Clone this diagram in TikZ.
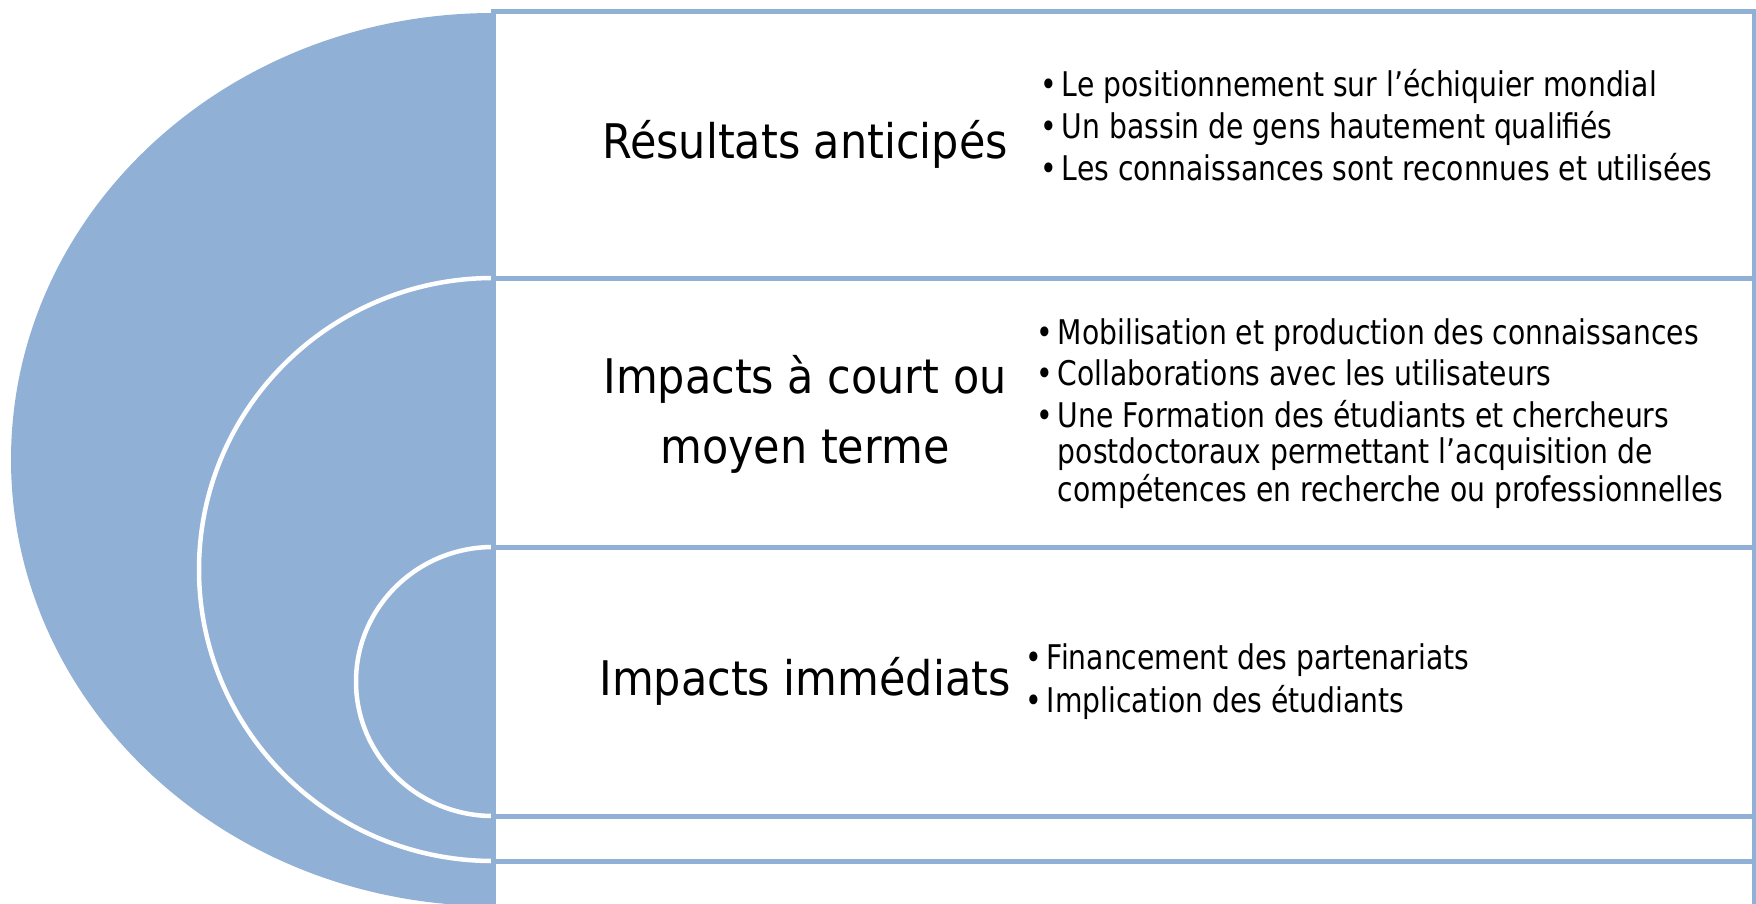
\documentclass[tikz,border=0pt]{standalone}
\usepackage{fontspec}
\setmainfont{DejaVu Sans}[FakeStretch=0.9]
\newfontfamily\etroite{DejaVu Sans}[FakeStretch=0.83]
\definecolor{bleu}{RGB}{145,176,214}

\begin{document}
\begin{tikzpicture}[x=1pt, y=-1pt,
	cadre/.style={draw=bleu, line width=5pt, fill=white},
	anneau/.style={fill=bleu, draw=white, line width=4.5pt},
	titre/.style={inner sep=0pt, align=center, font=\fontsize{47.7}{70}\selectfont},
	liste/.style={inner sep=0pt, anchor=west, font=\etroite\fontsize{34}{34}\selectfont}]
	\useasboundingbox (0,0) rectangle (1756,903);
	\fill [bleu] (493,459.5) ellipse [x radius=482pt, y radius=446.5pt];
	\draw [anneau] (493,569.5) ellipse [x radius=294pt, y radius=291.5pt];
	\draw [anneau] (493,681.5) ellipse [x radius=137pt, y radius=134.5pt];
	\draw [cadre] (493,11) rectangle (1754,906);
	\draw [cadre] (493,278) rectangle (1754,861);
	\draw [cadre] (493,547) rectangle (1754,816);
	\node [titre] (titre1) at (805,144.5) {Résultats anticipés};
	\node [titre] (titre2) at (805,414) {Impacts à court ou\\moyen terme};
	\node [titre] (titre3) at (805,681.5) {Impacts immédiats};
	\node [liste] (liste1) at (1040,130) {\begin{tabular}{@{}l@{\hspace{5pt}}l@{}}
		• & Le positionnement sur l’échiquier mondial\\[5pt]
		• & Un bassin de gens hautement qualifiés\\[5pt]
		• & Les connaissances sont reconnues et utilisées
	\end{tabular}};
	\node [liste] (liste2) at (1036,415) {\begin{tabular}{@{}l@{\hspace{5pt}}l@{}}
		• & Mobilisation et production des connaissances\\[5pt]
		• & Collaborations avec les utilisateurs\\[5pt]
		• & Une Formation des étudiants et chercheurs\\
		& postdoctoraux permettant l’acquisition de\\
		& compétences en recherche ou professionnelles
	\end{tabular}};
	\node [liste] (liste3) at (1025,683) {\begin{tabular}{@{}l@{\hspace{5pt}}l@{}}
		• & Financement des partenariats\\[5pt]
		• & Implication des étudiants
	\end{tabular}};
\end{tikzpicture}
\end{document}
